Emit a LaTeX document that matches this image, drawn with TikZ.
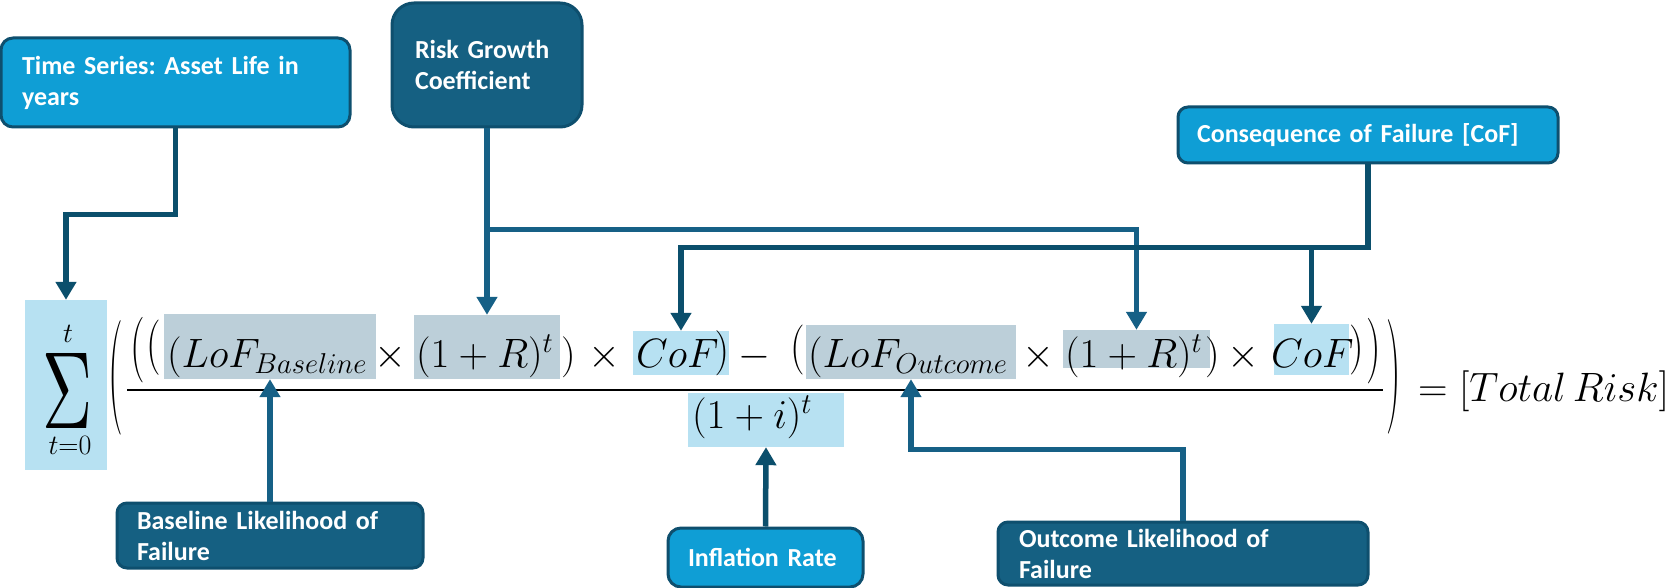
\RequirePackage{fix-cm}
\documentclass[tikz,border=0pt]{standalone}
\usepackage{fontspec}
\usepackage{graphicx}
\newfontfamily\labfont{Carlito}
\usetikzlibrary{arrows.meta}
\definecolor{lightbx}{HTML}{0F9ED5}
\definecolor{darkbx}{HTML}{156082}
\definecolor{bxborder}{HTML}{0E4F6E}
\definecolor{hllight}{HTML}{B7E1F2}
\definecolor{hlgray}{HTML}{BCCFD9}
\definecolor{conndark}{HTML}{0B4F6C}
\definecolor{connmid}{HTML}{166086}
\frenchspacing
\begin{document}
\begin{tikzpicture}[x=1pt,y=-1pt,
  lab/.style={font={\labfont\bfseries\fontsize{26}{31}\selectfont}, text=white, align=left, line width=3pt, inner sep=0pt, draw=bxborder},
  lbox/.style={lab, fill=lightbx},
  dbox/.style={lab, fill=darkbx},
  hlL/.style={fill=hllight, draw=none, inner sep=0pt},
  hlG/.style={fill=hlgray, draw=none, inner sep=0pt},
  fm/.style={inner sep=0pt, font={\fontsize{41}{41}\selectfont}},
  sm/.style={inner sep=0pt, font={\fontsize{28}{28}\selectfont}},
  cdark/.style={draw=conndark, line width=5.5pt, -{Triangle[length=18pt,width=20pt]}},
  cmid/.style={draw=connmid, line width=5.5pt, -{Triangle[length=18pt,width=20pt]}}
]
\fill[white] (0,0) rectangle (1670,588);
\useasboundingbox (0,0) rectangle (1670,588);

% label boxes
\node[lbox, rounded corners=12pt, minimum width=349pt, minimum height=89pt, text width=307pt] (ts) at (175.5,82.5) {Time Series: Asset Life in\\years};
\node[dbox, rounded corners=22pt, minimum width=190pt, minimum height=124pt, text width=144pt] (rg) at (487,65) {Risk Growth\\Coefficient};
\node[lbox, rounded corners=10pt, minimum width=380pt, minimum height=56pt, text width=342pt] (cof) at (1368,135) {Consequence of Failure [CoF]};
\node[dbox, rounded corners=10pt, minimum width=306pt, minimum height=65pt, text width=266pt] (bl) at (270,535.5) {Baseline Likelihood of\\Failure};
\node[lbox, rounded corners=13pt, minimum width=195pt, minimum height=59pt, text width=155pt] (inf) at (765.5,557.5) {Inflation Rate};
\node[dbox, rounded corners=10pt, minimum width=370pt, minimum height=63pt, text width=328pt] (oc) at (1183,553.5) {Outcome Likelihood of\\Failure};

% highlight boxes
\node[hlL, minimum width=82pt, minimum height=170pt] (sum) at (66,385) {};
\node[hlG, minimum width=212pt, minimum height=65pt] (b1) at (270,346.5) {};
\node[hlG, minimum width=146pt, minimum height=64pt] (b2) at (487,347) {};
\node[hlL, minimum width=96pt, minimum height=44pt] (c1) at (681,353) {};
\node[hlG, minimum width=210pt, minimum height=54pt] (b3) at (911,352) {};
\node[hlG, minimum width=147pt, minimum height=38pt] (b4) at (1136.5,349) {};
\node[hlL, minimum width=75pt, minimum height=51pt] (c2) at (1311.5,349.5) {};
\node[hlL, minimum width=156pt, minimum height=54pt] (den) at (766,420) {};

% sum
\node[inner sep=0pt, anchor=north] (sig) at (68,353) {\resizebox*{50pt}{75pt}{$\Sigma$}};
\node[sm] (tup) at (68,334) {$t$};
\node[sm] (tlo) at (70,445) {$t{=}0$};

% outer parens
\node[fm] (lp0) at (116,377.5) {\scalebox{1}[2.8]{$($}};
\node[fm] (rp0) at (1394,377) {\scalebox{1}[2.8]{$)$}};
\draw[line width=2pt] (127,390) -- (1383,390);

% numerator
\node[fm] (lp1) at (137.5,350.5) {\scalebox{1}[1.6]{$($}};
\node[fm] (lp2) at (153.5,347.5) {\scalebox{1}[1.35]{$($}};
\node[fm, anchor=base west] (t1) at (167,367) {$(LoF_{Baseline}$};
\node[fm, anchor=base] (x1) at (390,367) {$\times$};
\node[fm, anchor=base west] (t2) at (416,367) {$(1+R)^t$};
\node[fm, anchor=base west] (rp1) at (561,367) {$)$};
\node[fm, anchor=base] (x2) at (604,367) {$\times$};
\node[fm, anchor=base west] (t3) at (636,367) {$CoF$};
\node[fm] (rp2) at (722,353) {\scalebox{1}[1.1]{$)$}};
\node[fm, anchor=base] (mi) at (754,367) {$-$};
\node[fm] (lp3) at (798,350) {\scalebox{1}[1.22]{$($}};
\node[fm, anchor=base west] (t4) at (808,367) {$(LoF_{Outcome}$};
\node[fm, anchor=base] (x3) at (1038,367) {$\times$};
\node[fm, anchor=base west] (t5) at (1065,367) {$(1+R)^t$};
\node[fm, anchor=base west] (rp3) at (1205,367) {$)$};
\node[fm, anchor=base] (x4) at (1243,367) {$\times$};
\node[fm, anchor=base west] (t6) at (1271,367) {$CoF$};
\node[fm] (rp4) at (1357,350) {\scalebox{1}[1.22]{$)$}};
\node[fm] (rp5) at (1374,351) {\scalebox{1}[1.6]{$)$}};

% denominator
\node[fm, anchor=base west] (t7) at (692,428) {$(1+i)^t$};

% result
\node[fm, anchor=base west] (res) at (1418,401) {$=[Total\,Risk]$};

% connectors
\draw[cdark] (ts.south) -- ++(0,86) -| (sum.north);
\draw[cmid] (rg.south) -- (b2.north);
\draw[cmid] (rg.south) ++(0,101) -| (b4.north);
\draw[cdark] (cof.south) -- ++(0,83) -| (c1.north);
\draw[cdark] (cof.south) -- ++(0,83) -| (c2.north);
\draw[cmid] (bl.north) -- (b1.south);
\draw[cdark] (inf.north) -- (den.south);
\draw[cmid] (oc.north) -- ++(0,-71) -| (b3.south);
\end{tikzpicture}
\end{document}
